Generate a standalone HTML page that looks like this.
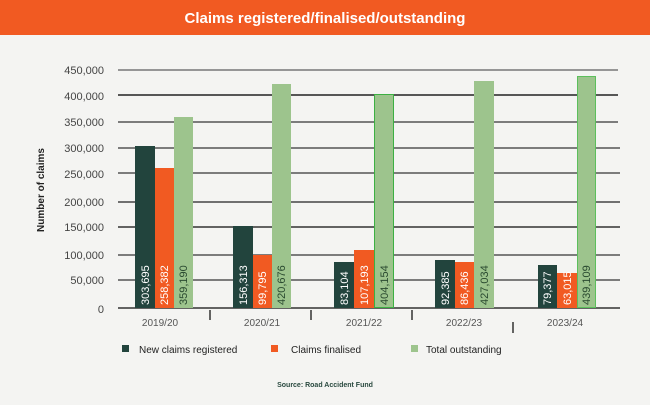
<!DOCTYPE html>
<html><head><meta charset="utf-8"><style>
body{margin:0;width:650px;height:400px;background:#f4f4f2;overflow:hidden;font-family:"Liberation Sans",sans-serif}
</style></head><body>
<svg width="650" height="400" xmlns="http://www.w3.org/2000/svg" font-family="Liberation Sans, sans-serif">
<rect x="0" y="0" width="650" height="35" fill="#f15a22"/>
<text x="325" y="23" text-anchor="middle" fill="#fff" font-size="15" font-weight="bold">Claims registered/finalised/outstanding</text>
<g stroke-width="1.5">
<line x1="118" y1="70" x2="618" y2="70" stroke="#777"/>
<line x1="118" y1="95" x2="618" y2="95" stroke="#222"/>
<line x1="118" y1="122" x2="618" y2="122" stroke="#555"/>
<line x1="118" y1="148" x2="620" y2="148" stroke="#555"/>
<line x1="118" y1="173" x2="620" y2="173" stroke="#555"/>
<line x1="118" y1="202" x2="620" y2="202" stroke="#444"/>
<line x1="118" y1="227" x2="620" y2="227" stroke="#333"/>
<line x1="118" y1="255" x2="620" y2="255" stroke="#555"/>
<line x1="118" y1="280" x2="620" y2="280" stroke="#555"/>
<line x1="118" y1="308" x2="620" y2="308" stroke="#333"/>
</g>
<g font-size="11" fill="#444" text-anchor="end">
<text x="104" y="74">450,000</text><text x="104" y="100">400,000</text>
<text x="104" y="126">350,000</text><text x="104" y="152">300,000</text>
<text x="104" y="178">250,000</text><text x="104" y="206">200,000</text>
<text x="104" y="231">150,000</text><text x="104" y="259">100,000</text>
<text x="104" y="284">50,000</text><text x="104" y="313">0</text>
</g>
<text transform="translate(44,190) rotate(-90)" text-anchor="middle" font-size="10" font-weight="bold" fill="#222">Number of claims</text>
<g>
<rect x="135" y="146" width="20" height="162" fill="#22443d"/>
<rect x="155" y="168" width="19" height="140" fill="#f15a22"/>
<rect x="174" y="117" width="19" height="191" fill="#9dc48d"/>
<rect x="233" y="226" width="20" height="82" fill="#22443d"/>
<rect x="253" y="255" width="19" height="53" fill="#f15a22"/>
<rect x="272" y="84" width="19" height="224" fill="#9dc48d"/>
<rect x="334" y="262" width="20" height="46" fill="#22443d"/>
<rect x="354" y="250" width="20" height="58" fill="#f15a22"/>
<rect x="374.5" y="94.5" width="19" height="213" fill="#9dc48d" stroke="#3cb043"/>
<rect x="435" y="260" width="20" height="48" fill="#22443d"/>
<rect x="455" y="262" width="19" height="46" fill="#f15a22"/>
<rect x="474" y="81" width="20" height="227" fill="#9dc48d"/>
<rect x="538" y="265" width="19" height="43" fill="#22443d"/>
<rect x="557" y="273" width="20" height="35" fill="#f15a22"/>
<rect x="577.5" y="76.5" width="18" height="231" fill="#9dc48d" stroke="#5cbf5c"/>
</g>
<g font-size="11" text-anchor="start">
<g fill="#fff">
<text transform="translate(149,305) rotate(-90)">303,695</text>
<text transform="translate(168,305) rotate(-90)">258,382</text>
<text transform="translate(247,305) rotate(-90)">156,313</text>
<text transform="translate(266,305) rotate(-90)">99,795</text>
<text transform="translate(348,305) rotate(-90)">83,104</text>
<text transform="translate(368,305) rotate(-90)">107,193</text>
<text transform="translate(449,305) rotate(-90)">92,385</text>
<text transform="translate(468,305) rotate(-90)">86,436</text>
<text transform="translate(551,305) rotate(-90)">79,377</text>
<text transform="translate(571,305) rotate(-90)">63,015</text>
</g>
<g fill="#2a4a30">
<text transform="translate(187,305) rotate(-90)">359,190</text>
<text transform="translate(285,305) rotate(-90)">420,676</text>
<text transform="translate(388,305) rotate(-90)">404,154</text>
<text transform="translate(488,305) rotate(-90)">427,034</text>
<text transform="translate(590,305) rotate(-90)">439,109</text>
</g>
</g>
<g stroke="#333" stroke-width="1.5">
<line x1="210" y1="310" x2="210" y2="320"/><line x1="311" y1="310" x2="311" y2="320"/>
<line x1="412" y1="310" x2="412" y2="320"/><line x1="513" y1="322" x2="513" y2="333"/>
</g>
<g font-size="10" fill="#555" text-anchor="middle">
<text x="160" y="326">2019/20</text><text x="262" y="326">2020/21</text>
<text x="364" y="326">2021/22</text><text x="464" y="326">2022/23</text><text x="565" y="326">2023/24</text>
</g>
<g font-size="10" fill="#222">
<rect x="122" y="345" width="7" height="7" fill="#22443d"/><text x="139" y="353">New claims registered</text>
<rect x="271" y="345" width="7" height="7" fill="#f15a22"/><text x="291" y="353">Claims finalised</text>
<rect x="411" y="345" width="7" height="7" fill="#9dc48d"/><text x="426" y="353">Total outstanding</text>
</g>
<text x="325" y="387" text-anchor="middle" font-size="7" font-weight="bold" fill="#2a4a40">Source: Road Accident Fund</text>
</svg>
</body></html>
